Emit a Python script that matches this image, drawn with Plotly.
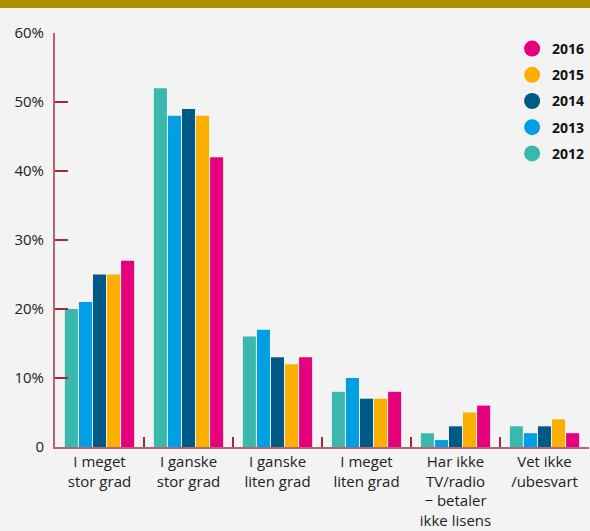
import plotly.graph_objects as go

categories = ["I meget<br>stor grad", "I ganske<br>stor grad", "I ganske<br>liten grad",
              "I meget<br>liten grad", "Har ikke<br>TV/radio<br>− betaler<br>ikke lisens",
              "Vet ikke<br>/ubesvart"]
years = ["2012", "2013", "2014", "2015", "2016"]
v2012 = [20, 52, 16, 8, 2, 3]
v2013 = [21, 48, 17, 10, 1, 2]
v2014 = [25, 49, 13, 7, 3, 3]
v2015 = [25, 48, 12, 7, 5, 4]
v2016 = [27, 42, 13, 8, 6, 2]
series = [v2012, v2013, v2014, v2015, v2016]
colors = ["#3AB8AC", "#009FE3", "#005A87", "#FBB000", "#E6007E"]
ytickvals = [0, 10, 20, 30, 40, 50, 60]
yticktext = ["0", "10%", "20%", "30%", "40%", "50%", "60%"]

fig = go.Figure()
for y, vals, c in zip(years, series, colors):
    fig.add_trace(go.Bar(x=categories, y=vals, name=y, marker_color=c,
                         marker_line_width=0, showlegend=False))
# legend entries (circles), newest year first
for y, c in reversed(list(zip(years, colors))):
    fig.add_trace(go.Scatter(x=[None], y=[None], mode="markers", name=y,
                             legendgroup=y,
                             marker=dict(color=c, size=18, symbol="circle")))

axcol = "#B86470"
tickcol = "#A3283C"
fig.update_layout(
    width=590, height=531,
    paper_bgcolor="#F3F3F3", plot_bgcolor="#F3F3F3",
    margin=dict(l=55, r=1, t=33, b=84, autoexpand=False),
    barmode="group", bargap=0.21, bargroupgap=0.07,
    font=dict(family="Open Sans", color="#222"),
    legend=dict(x=0.856, y=1.0, xanchor="left", yanchor="top",
                traceorder="grouped", tracegroupgap=5,
                font=dict(size=14, color="#111", family="Open Sans", weight="bold"),
                bgcolor="rgba(0,0,0,0)", itemsizing="trace"),
    shapes=[dict(type="rect", xref="paper", yref="paper",
                 x0=-0.2, x1=1.1, y0=(447 - 8) / 414, y1=1.2,
                 fillcolor="#A99200", line_width=0, layer="above")],
)
fig.update_yaxes(range=[0, 60], tickvals=ytickvals, ticktext=yticktext,
                 showgrid=False, zeroline=False, showline=True,
                 linecolor=axcol, linewidth=2, ticks="inside", ticklen=13,
                 tickcolor=tickcol, tickwidth=1.5,
                 tickfont=dict(size=15, color="#222"), ticklabelstandoff=6)
fig.update_xaxes(range=[-0.5, 5.5], showgrid=False, showline=True,
                 linecolor=axcol, linewidth=2,
                 ticks="inside", tickson="boundaries", ticklen=10,
                 tickcolor=tickcol, tickwidth=1.5,
                 tickfont=dict(size=15, color="#222"))
fig.write_html("out.html", config={"displayModeBar": False},
               post_script="document.body.style.margin='0';document.body.style.overflow='hidden';")
